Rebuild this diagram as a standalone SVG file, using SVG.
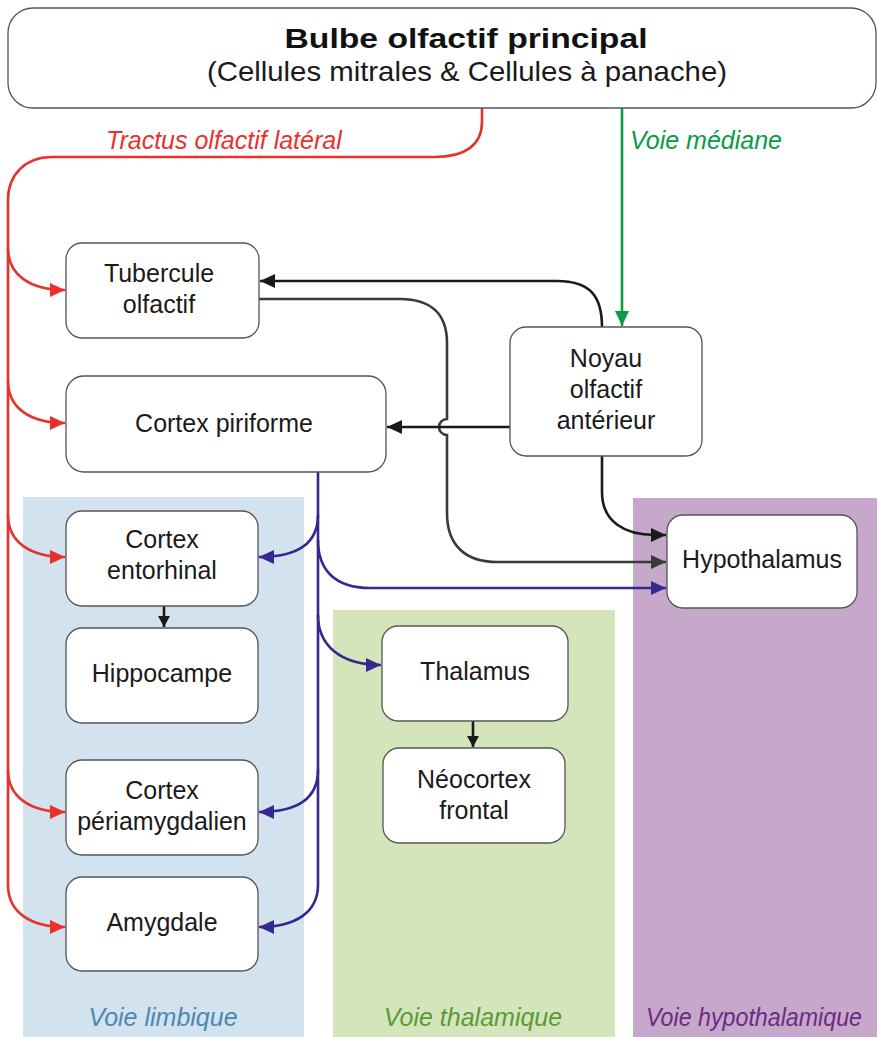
<svg xmlns="http://www.w3.org/2000/svg" width="877" height="1037" viewBox="0 0 877 1037">
<style>
.box{fill:#fff;stroke:#555;stroke-width:1.3}
.t{font-family:"Liberation Sans",Arial,sans-serif;font-size:25px;fill:#1a1a1a;text-anchor:middle}
.lab{font-family:"Liberation Sans",Arial,sans-serif;font-size:25px;font-style:italic}
.c{fill:none;stroke-width:2.6}
.red{stroke:#e8312a}
.pur{stroke:#38278f}
.blk{stroke:#1a1a1a}
.gry{stroke:#3a3a3a}
.grn{stroke:#0a9a48}
</style>
<defs>
<marker id="aR" markerUnits="userSpaceOnUse" markerWidth="16" markerHeight="14" refX="15" refY="7" orient="auto"><path d="M0,0 L15,7 L0,14 z" fill="#e8312a"/></marker>
<marker id="aP" markerUnits="userSpaceOnUse" markerWidth="16" markerHeight="14" refX="15" refY="7" orient="auto"><path d="M0,0 L15,7 L0,14 z" fill="#38278f"/></marker>
<marker id="aK" markerUnits="userSpaceOnUse" markerWidth="16" markerHeight="14" refX="15" refY="7" orient="auto"><path d="M0,0 L15,7 L0,14 z" fill="#1a1a1a"/></marker>
<marker id="aG" markerUnits="userSpaceOnUse" markerWidth="16" markerHeight="14" refX="15" refY="7" orient="auto"><path d="M0,0 L15,7 L0,14 z" fill="#3a3a3a"/></marker>
<marker id="aV" markerUnits="userSpaceOnUse" markerWidth="16" markerHeight="14" refX="15" refY="7" orient="auto"><path d="M0,0 L15,7 L0,14 z" fill="#0a9a48"/></marker>
<marker id="aS" markerUnits="userSpaceOnUse" markerWidth="12" markerHeight="12" refX="11" refY="6" orient="auto"><path d="M0,0 L11,6 L0,12 z" fill="#1a1a1a"/></marker>
</defs>
<rect width="877" height="1037" fill="#fff"/>
<g id="regions">
<rect x="23" y="497" width="281" height="540" fill="#d2e2ef"/>
<rect x="333" y="610" width="282" height="427" fill="#d5e5bb"/>
<rect x="633" y="498" width="244" height="539" fill="#c6a8cb"/>
<text class="lab" x="163" y="1026" text-anchor="middle" fill="#4a8ab0">Voie limbique</text>
<text class="lab" x="473" y="1026" text-anchor="middle" fill="#5a9a38">Voie thalamique</text>
<text class="lab" x="646" y="1026" fill="#6e2a82" textLength="216" lengthAdjust="spacingAndGlyphs">Voie hypothalamique</text>
</g>
<g id="connectors">
<path class="c red" d="M482,108 L482,122 C482,145 465,157 435,157 L52,157 C25,157 8,175 8,200 L8,885 C8,912 30,927 65,927" marker-end="url(#aR)"/>
<path class="c red" d="M8,248 C8,275 30,290 65,290" marker-end="url(#aR)"/>
<path class="c red" d="M8,381 C8,408 30,423 65,423" marker-end="url(#aR)"/>
<path class="c red" d="M8,515 C8,542 30,557 65,557" marker-end="url(#aR)"/>
<path class="c red" d="M8,770 C8,797 30,812 65,812" marker-end="url(#aR)"/>
<path class="c grn" d="M622,108 L622,326" marker-end="url(#aV)"/>
<path class="c blk" d="M602,327 C602,296 590,281 557,281 L260,281" marker-end="url(#aK)"/>
<path class="c gry" d="M259,299 L400,299 C432,299 447,315 447,343 L447,419 A8,8 0 0 0 447,435 L447,513 C447,545 465,562 497,562 L666,562" marker-end="url(#aG)"/>
<path class="c blk" d="M510,427 L387,427" marker-end="url(#aK)"/>
<path class="c blk" d="M602,456 L602,492 C602,522 625,535 655,535 L666,535" marker-end="url(#aK)"/>
<path class="c pur" d="M318,472 L318,885 C318,912 296,927 259,927" marker-end="url(#aP)"/>
<path class="c pur" d="M318,515 C318,545 295,557 259,557" marker-end="url(#aP)"/>
<path class="c pur" d="M318,540 C318,570 335,588 370,588 L666,588" marker-end="url(#aP)"/>
<path class="c pur" d="M318,615 C318,645 340,665 381,665" marker-end="url(#aP)"/>
<path class="c pur" d="M318,770 C318,800 295,812 259,812" marker-end="url(#aP)"/>
<path class="c blk" d="M164,606 L164,627" marker-end="url(#aS)"/>
<path class="c blk" d="M473,721 L473,747" marker-end="url(#aS)"/>
</g>
<g id="bulbe">
<rect class="box" x="8" y="8" width="868" height="100" rx="25"/>
<text x="466" y="48" text-anchor="middle" font-family="'Liberation Sans',Arial,sans-serif" font-size="27" font-weight="bold" fill="#111" textLength="363" lengthAdjust="spacingAndGlyphs">Bulbe olfactif principal</text>
<text x="467" y="81" text-anchor="middle" font-family="'Liberation Sans',Arial,sans-serif" font-size="28" fill="#1a1a1a" textLength="520" lengthAdjust="spacingAndGlyphs">(Cellules mitrales &amp; Cellules à panache)</text>
</g>
<text class="lab" x="106" y="149" fill="#e8312a">Tractus olfactif latéral</text>
<text class="lab" x="630" y="149" fill="#0a9a48">Voie médiane</text>
<g id="tubercule"><rect class="box" x="66" y="243" width="193" height="95" rx="16"/><text class="t" x="159" y="282">Tubercule</text><text class="t" x="159" y="313">olfactif</text></g>
<g id="piriforme"><rect class="box" x="66" y="376" width="320" height="96" rx="18"/><text class="t" x="224" y="432">Cortex piriforme</text></g>
<g id="noyau"><rect class="box" x="510" y="327" width="192" height="129" rx="16"/><text class="t" x="606" y="367">Noyau</text><text class="t" x="606" y="398">olfactif</text><text class="t" x="606" y="429">antérieur</text></g>
<g id="hypothalamus"><rect class="box" x="667" y="515" width="190" height="93" rx="16"/><text class="t" x="762" y="568">Hypothalamus</text></g>
<g id="entorhinal"><rect class="box" x="66" y="511" width="192" height="95" rx="16"/><text class="t" x="162" y="548">Cortex</text><text class="t" x="162" y="579">entorhinal</text></g>
<g id="hippocampe"><rect class="box" x="66" y="628" width="192" height="95" rx="16"/><text class="t" x="162" y="682">Hippocampe</text></g>
<g id="periamygdalien"><rect class="box" x="66" y="760" width="192" height="95" rx="16"/><text class="t" x="162" y="799">Cortex</text><text class="t" x="162" y="830">périamygdalien</text></g>
<g id="amygdale"><rect class="box" x="66" y="877" width="192" height="94" rx="16"/><text class="t" x="162" y="931">Amygdale</text></g>
<g id="thalamus"><rect class="box" x="382" y="626" width="186" height="95" rx="16"/><text class="t" x="475" y="680">Thalamus</text></g>
<g id="neocortex"><rect class="box" x="383" y="748" width="182" height="95" rx="16"/><text class="t" x="474" y="788">Néocortex</text><text class="t" x="474" y="819">frontal</text></g>
</svg>
